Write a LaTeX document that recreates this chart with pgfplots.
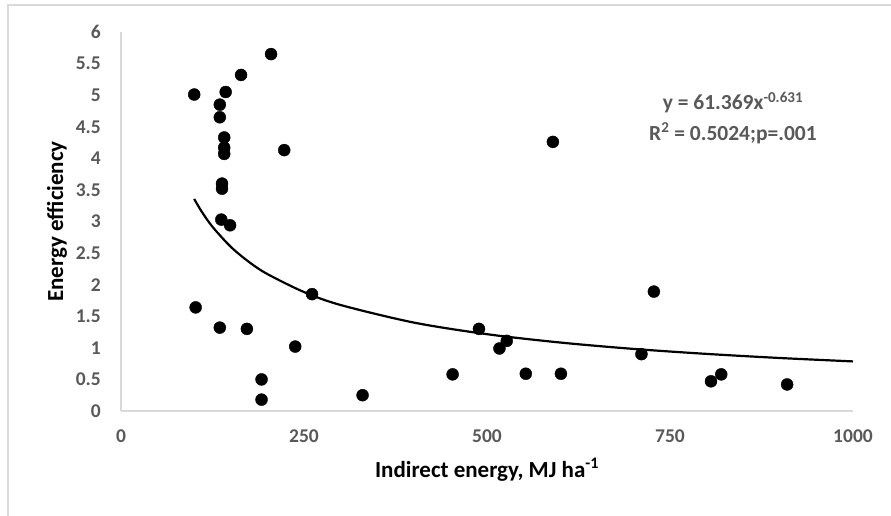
\documentclass[border=0pt]{standalone}
\usepackage{pgfplots}
\pgfplotsset{compat=1.18}
\usepackage{fontspec}
\setmainfont{Carlito}
\definecolor{tickgray}{HTML}{595959}
\definecolor{axgray}{HTML}{D9D9D9}

\begin{document}
\begin{tikzpicture}
\useasboundingbox (0bp,0bp) rectangle (891bp,516bp);
\fill[white] (0bp,0bp) rectangle (891bp,516bp);
% chart area border (left and top edges)
\draw[axgray, line width=1.2bp] (8bp,0bp) -- (8bp,511bp) -- (891bp,511bp);
\begin{axis}[
  at={(121bp,105bp)}, anchor=south west,
  scale only axis, width=732bp, height=379bp,
  xmin=0, xmax=1000, ymin=0, ymax=6,
  xtick={0,250,500,750,1000},
  ytick={0,0.5,...,6},
  axis lines*=left,
  axis line style={axgray, line width=1.2bp},
  major tick length=0pt,
  /pgf/number format/assume math mode=true,
  /pgf/number format/1000 sep={},
  tick label style={font=\fontsize{19.5bp}{22bp}\selectfont\bfseries, text=tickgray, inner sep=0pt},
  yticklabel style={anchor=east, xshift=-20bp},
  xticklabel style={anchor=north, yshift=-19bp},
  xlabel={Indirect energy, MJ ha\textsuperscript{-1}},
  ylabel={Energy efficiency},
  label style={font=\fontsize{23bp}{26bp}\selectfont\bfseries, text=black},
  xlabel style={at={(axis description cs:0.5,-0.1557)}, anchor=center},
  ylabel style={at={(axis description cs:-0.0874,0.5)}, anchor=center},
  clip=false,
]
% observations
\addplot[only marks, mark=*, mark size=6bp, black] table {
x y
100 5.01
205 5.65
164 5.32
143 5.05
135 4.85
135 4.65
141 4.33
141 4.17
141 4.07
223 4.13
138 3.60
138 3.52
137 3.03
149 2.94
261 1.85
102 1.64
135 1.32
172 1.30
238 1.02
192 0.50
192 0.18
330 0.25
453 0.58
489 1.30
527 1.11
517 0.99
553 0.59
601 0.59
711 0.90
728 1.89
820 0.58
806 0.47
910 0.42
590 4.26
};
% power trend line y = 61.369 x^-0.631
\addplot[black, line width=2.2bp, smooth] coordinates {
(100,3.357) (110,3.161) (125,2.916) (150,2.599) (175,2.358) (200,2.168)
(250,1.883) (300,1.678) (400,1.400) (500,1.216) (600,1.084)
(700,0.983) (800,0.904) (900,0.839) (1000,0.785)
};
\node[font=\fontsize{21.5bp}{24bp}\selectfont\bfseries, text=tickgray] at (axis cs:836,4.88) {y = 61.369x\textsuperscript{-0.631}};
\node[font=\fontsize{21.5bp}{24bp}\selectfont\bfseries, text=tickgray] at (axis cs:836,4.40) {R\textsuperscript{2} = 0.5024;p=.001};
\end{axis}
\end{tikzpicture}
\end{document}
